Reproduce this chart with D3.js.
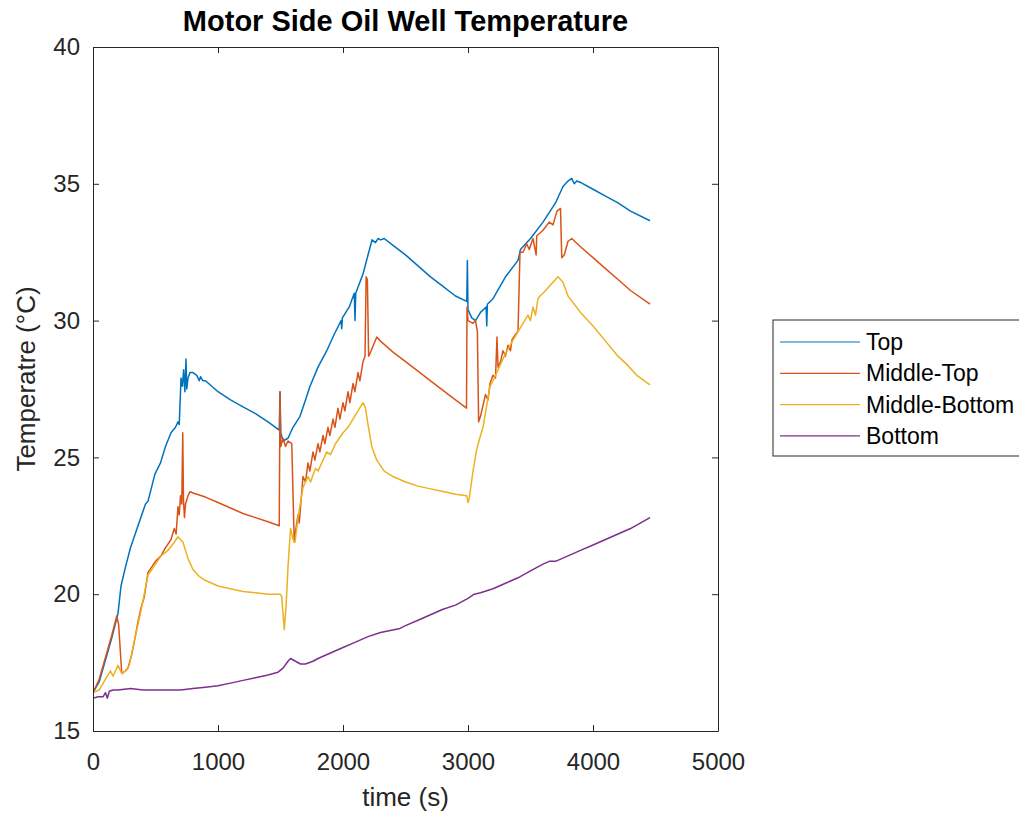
<!DOCTYPE html>
<html>
<head>
<meta charset="utf-8">
<script src="https://cdn.jsdelivr.net/npm/d3@7"></script>
<style>
  body { margin: 0; background: #fff; }
  text { font-family: "Liberation Sans", Arial, sans-serif; }
</style>
</head>
<body>
<div id="chart"></div>
<script>
// [time (s), temperature (°C)]
const topData = [[0,16.4],[50,16.8],[100,17.6],[150,18.4],[200,19.3],[224,20.3],[260,21.0],[300,21.7],[360,22.5],[420,23.3],[440,23.4],[496,24.4],[540,24.8],[580,25.4],[624,25.9],[660,26.1],[680,26.3],[690,26.2],[704,27.9],[715,27.6],[725,28.2],[735,27.4],[744,28.6],[750,27.5],[760,27.9],[776,28.1],[800,28.1],[830,28.0],[850,27.8],[860,27.95],[880,27.8],[900,27.8],[1000,27.4],[1100,27.1],[1200,26.85],[1300,26.6],[1400,26.3],[1490,26.0],[1496,27.4],[1502,25.9],[1520,25.6],[1560,25.7],[1600,26.1],[1656,26.5],[1700,27.1],[1736,27.6],[1800,28.3],[1870,28.9],[1930,29.5],[1985,30.0],[1990,29.7],[1995,30.1],[2050,30.5],[2090,31.0],[2096,30.0],[2102,31.0],[2160,31.7],[2200,32.4],[2232,32.95],[2260,32.85],[2280,33.0],[2300,32.95],[2330,33.0],[2400,32.75],[2500,32.4],[2600,32.0],[2700,31.6],[2800,31.25],[2900,30.9],[2990,30.7],[2995,32.2],[3000,30.4],[3030,30.1],[3060,30.0],[3100,30.3],[3145,30.5],[3150,29.8],[3155,30.6],[3200,30.8],[3300,31.6],[3400,32.2],[3420,32.6],[3500,33.0],[3600,33.6],[3700,34.3],[3760,34.9],[3800,35.1],[3830,35.2],[3850,35.0],[3870,35.1],[3900,35.05],[4000,34.8],[4100,34.55],[4200,34.3],[4300,34.0],[4456,33.65]];

const midTopData = [[0,16.4],[50,16.9],[100,17.7],[150,18.5],[190,19.2],[205,18.9],[230,17.1],[260,17.2],[280,17.3],[310,17.8],[336,18.4],[360,19.0],[384,19.5],[410,19.9],[440,20.8],[470,21.0],[500,21.2],[544,21.4],[580,21.7],[610,21.9],[624,22.0],[650,22.4],[665,22.2],[680,23.2],[690,22.9],[700,23.6],[710,23.3],[718,25.9],[724,23.4],[732,22.8],[740,23.3],[760,23.6],[776,23.75],[800,23.7],[900,23.55],[1000,23.35],[1100,23.15],[1200,22.95],[1300,22.8],[1400,22.65],[1490,22.5],[1496,27.4],[1502,25.4],[1520,25.7],[1540,25.4],[1560,25.6],[1590,25.5],[1610,21.9],[1620,22.3],[1640,22.9],[1650,22.6],[1680,24.3],[1700,24.1],[1720,24.8],[1735,24.5],[1760,25.2],[1775,24.9],[1800,25.5],[1815,25.2],[1840,25.8],[1855,25.5],[1880,26.1],[1895,25.8],[1920,26.4],[1935,26.1],[1960,26.8],[1975,26.4],[2000,27.0],[2015,26.7],[2040,27.4],[2055,27.0],[2080,27.7],[2095,27.4],[2120,28.1],[2135,27.8],[2160,28.5],[2176,28.7],[2185,31.6],[2195,31.5],[2205,28.7],[2216,28.8],[2270,29.4],[2300,29.25],[2400,28.85],[2500,28.5],[2600,28.15],[2700,27.8],[2800,27.45],[2900,27.1],[2988,26.8],[2992,30.5],[3000,30.0],[3040,29.9],[3060,30.0],[3075,29.6],[3085,26.3],[3100,26.5],[3120,26.9],[3140,27.3],[3160,27.1],[3176,27.7],[3200,28.0],[3220,27.9],[3232,29.4],[3240,28.3],[3260,28.5],[3280,28.9],[3300,28.7],[3320,29.1],[3340,28.9],[3352,29.3],[3380,29.5],[3400,29.6],[3416,32.5],[3440,32.5],[3470,32.8],[3490,32.6],[3520,33.0],[3545,32.4],[3550,33.1],[3576,33.2],[3600,33.3],[3650,33.6],[3680,33.5],[3712,34.0],[3740,34.1],[3750,32.3],[3770,32.4],[3800,32.9],[3830,33.0],[3900,32.7],[4000,32.3],[4100,31.9],[4200,31.5],[4300,31.1],[4456,30.6]];

const midBottomData = [[0,16.4],[50,16.5],[100,16.9],[140,17.2],[160,17.0],[200,17.4],[230,17.1],[260,17.2],[290,17.4],[336,18.4],[384,19.4],[440,20.7],[500,21.1],[544,21.4],[600,21.6],[650,21.9],[680,22.1],[700,22.0],[720,21.9],[740,21.6],[760,21.3],[800,20.9],[850,20.65],[900,20.5],[1000,20.3],[1100,20.2],[1200,20.1],[1300,20.05],[1400,20.0],[1500,20.0],[1510,19.9],[1530,18.7],[1545,19.6],[1560,21.0],[1580,22.4],[1600,22.0],[1616,21.9],[1640,22.8],[1680,23.9],[1720,24.3],[1740,24.1],[1780,24.6],[1800,24.5],[1840,24.9],[1870,25.2],[1900,25.1],[1940,25.5],[2000,25.9],[2040,26.1],[2080,26.4],[2120,26.7],[2160,27.0],[2180,26.8],[2200,26.2],[2230,25.4],[2270,24.9],[2330,24.5],[2400,24.3],[2500,24.1],[2600,23.95],[2700,23.85],[2800,23.75],[2900,23.65],[2990,23.6],[3000,23.35],[3010,23.5],[3040,24.5],[3070,25.3],[3100,25.8],[3120,26.1],[3150,26.9],[3176,27.6],[3200,27.8],[3240,28.2],[3280,28.6],[3312,28.9],[3350,29.2],[3400,29.6],[3440,29.9],[3480,30.2],[3500,30.0],[3520,30.5],[3540,30.2],[3560,30.8],[3576,30.9],[3600,31.0],[3640,31.2],[3680,31.4],[3720,31.6],[3760,31.4],[3800,30.9],[3900,30.3],[4000,29.8],[4100,29.25],[4200,28.7],[4270,28.4],[4350,28.0],[4456,27.65]];

const bottomData = [[0,16.2],[40,16.25],[80,16.25],[100,16.4],[115,16.2],[130,16.45],[160,16.5],[200,16.5],[300,16.55],[400,16.5],[500,16.5],[640,16.5],[700,16.5],[800,16.55],[900,16.6],[1000,16.65],[1100,16.75],[1200,16.85],[1300,16.95],[1400,17.05],[1480,17.15],[1520,17.3],[1560,17.55],[1580,17.65],[1620,17.55],[1660,17.45],[1700,17.45],[1760,17.55],[1800,17.65],[1900,17.85],[2000,18.05],[2100,18.25],[2200,18.45],[2300,18.6],[2456,18.75],[2500,18.85],[2600,19.05],[2700,19.25],[2800,19.45],[2900,19.6],[3000,19.85],[3050,20.0],[3100,20.05],[3200,20.2],[3300,20.4],[3400,20.6],[3500,20.85],[3600,21.1],[3650,21.2],[3700,21.2],[3800,21.4],[3900,21.6],[4000,21.8],[4100,22.0],[4200,22.2],[4300,22.4],[4456,22.8]];

const seriesNames = ["Top", "Middle-Top", "Middle-Bottom", "Bottom"];
const seriesColors = ["#0072BD", "#D95319", "#EDB120", "#7E2F8E"];
const xTicks = [0, 1000, 2000, 3000, 4000, 5000];
const yTicks = [15, 20, 25, 30, 35, 40];

const series = [topData, midTopData, midBottomData, bottomData];

const W = 1019, H = 815;
const margin = { top: 47, left: 93 };
const width = 625, height = 684;
const axisColor = "#262626";

const svg = d3.select("#chart").append("svg")
    .attr("width", W)
    .attr("height", H);

const g = svg.append("g")
    .attr("transform", `translate(${margin.left},${margin.top})`);

const x = d3.scaleLinear().domain([0, 5000]).range([0, width]);
const y = d3.scaleLinear().domain([15, 40]).range([height, 0]);

svg.append("defs").append("clipPath").attr("id", "clip")
    .append("rect").attr("width", width).attr("height", height);

// lines
const line = d3.line().x(d => x(d[0])).y(d => y(d[1]));
g.append("g").attr("clip-path", "url(#clip)")
    .selectAll("path")
    .data(series)
    .enter().append("path")
    .attr("d", line)
    .attr("fill", "none")
    .attr("stroke", (d, i) => seriesColors[i])
    .attr("stroke-width", 1.5)
    .attr("stroke-linejoin", "round");

// axes, MATLAB-like box with inward ticks
function styleAxis(sel, showText) {
    sel.select(".domain").attr("stroke", axisColor);
    sel.selectAll(".tick line").attr("stroke", axisColor);
    sel.selectAll(".tick text")
        .attr("fill", axisColor)
        .style("font-size", "24px")
        .style("display", showText ? null : "none");
}

const fmt = d3.format("d");

g.append("g").attr("transform", `translate(0,${height})`)
    .call(d3.axisBottom(x).tickValues(xTicks).tickFormat(fmt).tickSizeInner(-6).tickSizeOuter(0).tickPadding(22))
    .call(s => styleAxis(s, true));
g.append("g")
    .call(d3.axisTop(x).tickValues(xTicks).tickSizeInner(-6).tickSizeOuter(0))
    .call(s => styleAxis(s, false));
g.append("g")
    .call(d3.axisLeft(y).tickValues(yTicks).tickFormat(fmt).tickSizeInner(-6).tickSizeOuter(0).tickPadding(13))
    .call(s => styleAxis(s, true));
g.append("g").attr("transform", `translate(${width},0)`)
    .call(d3.axisRight(y).tickValues(yTicks).tickSizeInner(-6).tickSizeOuter(0))
    .call(s => styleAxis(s, false));

// title
svg.append("text")
    .attr("x", margin.left + width / 2)
    .attr("y", 31)
    .attr("text-anchor", "middle")
    .attr("fill", "#000")
    .style("font-size", "29px")
    .style("font-weight", "bold")
    .text("Motor Side Oil Well Temperature");

// axis labels
svg.append("text")
    .attr("x", margin.left + width / 2)
    .attr("y", 806)
    .attr("text-anchor", "middle")
    .attr("fill", axisColor)
    .style("font-size", "26px")
    .text("time (s)");

svg.append("text")
    .attr("transform", `translate(35,${margin.top + height / 2 - 10}) rotate(-90)`)
    .attr("text-anchor", "middle")
    .attr("fill", axisColor)
    .style("font-size", "26px")
    .text("Temperatre (°C)");

// legend
const legend = svg.append("g").attr("transform", "translate(773,320)");
legend.append("rect")
    .attr("width", 260)
    .attr("height", 136)
    .attr("fill", "#fff")
    .attr("stroke", axisColor)
    .attr("stroke-width", 1);

const items = legend.selectAll(".legend-item")
    .data(seriesNames)
    .enter().append("g")
    .attr("class", "legend-item")
    .attr("transform", (d, i) => `translate(0,${22 + i * 31.3})`);

items.append("line")
    .attr("x1", 7).attr("x2", 87)
    .attr("stroke", (d, i) => seriesColors[i])
    .attr("stroke-width", 1.2);

items.append("text")
    .attr("x", 93)
    .attr("y", 8)
    .attr("fill", "#000")
    .style("font-size", "23px")
    .text(d => d);
</script>
</body>
</html>
